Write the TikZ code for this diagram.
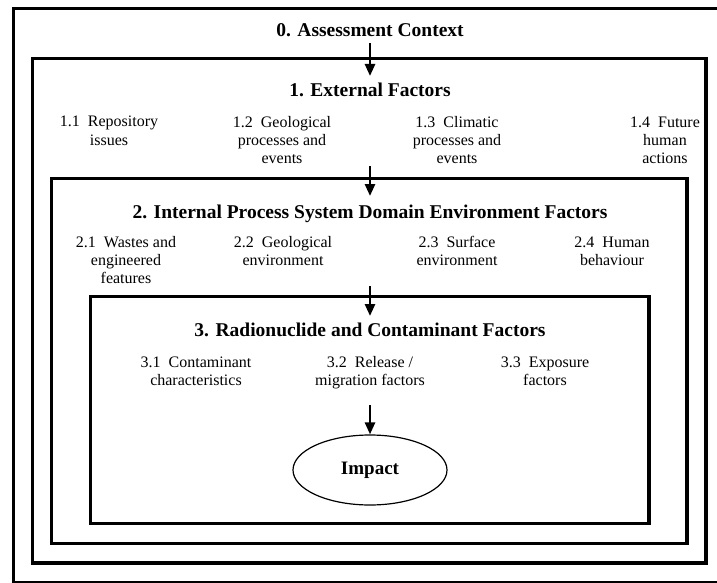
\documentclass[tikz,border=0pt]{standalone}
\usepackage{fontspec}
\setmainfont{Liberation Serif}
\usetikzlibrary{arrows.meta,shapes.geometric}
\begin{document}
\begin{tikzpicture}[x=1pt,y=-1pt,
  frame/.style={draw=black,line width=3.2pt},
  head/.style={font=\bfseries\fontsize{19.5}{22}\selectfont,inner sep=0pt,anchor=base},
  item/.style={font=\fontsize{16}{18.3}\selectfont,align=center,inner sep=0pt,anchor=base},
  arr/.style={line width=2.6pt,-{Triangle[width=10pt,length=12pt]}},
  ell/.style={ellipse,draw=black,line width=1.2pt,minimum width=154pt,minimum height=70pt,inner sep=0pt,font=\bfseries\fontsize{19}{22}\selectfont}
]
\useasboundingbox (0,0) rectangle (717,583);
\clip (0,0) rectangle (717,583);
\fill[white] (0,0) rectangle (717,583);
% frames
\draw[draw=black,line width=3pt] (13.5,9) rectangle (722,582);
\draw[frame] (32.5,58.5) rectangle (706,563);
\draw[frame] (51.5,178.5) rectangle (687,543.5);
\draw[frame] (90.5,296.5) rectangle (649,523.5);
% headings
\node[head] (t0) at (370,36.5) {0. Assessment Context};
\node[head] (t1) at (370,96.5) {1. External Factors};
\node[head] (t2) at (370,218.5) {2. Internal Process System Domain Environment Factors};
\node[head] (t3) at (370,336.5) {3. Radionuclide and Contaminant Factors};
% level 1 items (base anchor = last line)
\node[item] (i11) at (109,145.3) {1.1\ \ Repository\\issues};
\node[item] (i12) at (282,163.6) {1.2\ \ Geological\\processes and\\events};
\node[item] (i13) at (457,163.6) {1.3\ \ Climatic\\processes and\\events};
\node[item] (i14) at (665,163.6) {1.4\ \ Future\\human\\actions};
% level 2 items
\node[item] (i21) at (126,283.6) {2.1\ \ Wastes and\\engineered\\features};
\node[item] (i22) at (283,265.3) {2.2\ \ Geological\\environment};
\node[item] (i23) at (457,265.3) {2.3\ \ Surface\\environment};
\node[item] (i24) at (612,265.3) {2.4\ \ Human\\behaviour};
% level 3 items
\node[item] (i31) at (196,385.3) {3.1\ \ Contaminant\\characteristics};
\node[item] (i32) at (370,385.3) {3.2\ \ Release /\\migration factors};
\node[item] (i33) at (545,385.3) {3.3\ \ Exposure\\factors};
% impact
\node[ell] (imp) at (370,470) {Impact};
% arrow end points
\coordinate (s0) at (370,43);
\coordinate (e0) at (370,76);
\coordinate (s1) at (370,166);
\coordinate (e1) at (370,196);
\coordinate (s2) at (370,286);
\coordinate (e2) at (370,316);
\coordinate (s3) at (370,405);
\draw[arr] (s0) -- (e0);
\draw[arr] (s1) -- (e1);
\draw[arr] (s2) -- (e2);
\draw[arr] (s3) -- (imp.north);
\end{tikzpicture}
\end{document}
